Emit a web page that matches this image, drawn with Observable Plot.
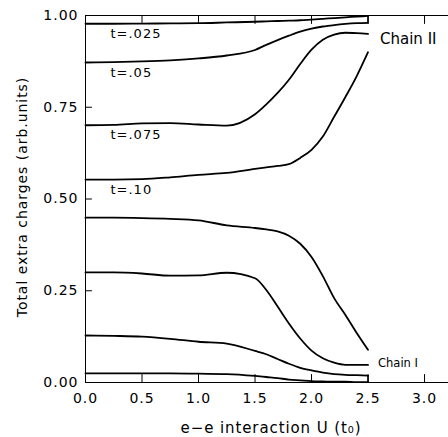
<!DOCTYPE html>
<html>
<head>
<meta charset="utf-8">
<script src="https://cdn.jsdelivr.net/npm/d3@7"></script>
<script src="https://cdn.jsdelivr.net/npm/@observablehq/plot@0.6"></script>
<style>
  body { margin: 0; background: #fff; }
</style>
</head>
<body>
<div id="chart"></div>
<script>
// ---- data ----
const U = [0, 0.25, 0.5, 0.75, 1.0, 1.25, 1.5, 1.6, 1.7, 1.8, 1.9, 2.0, 2.1, 2.2, 2.3, 2.4, 2.5];

const seriesLabels = ["t=.025", "t=.05", "t=.075", "t=.10"];

// Chain II (upper group)
const chainII_t025 = [0.9775, 0.9775, 0.978, 0.9785, 0.979, 0.981, 0.983, 0.984, 0.985, 0.986, 0.987, 0.989, 0.991, 0.993, 0.995, 0.997, 0.999];
const chainII_t05  = [0.872, 0.873, 0.875, 0.878, 0.883, 0.891, 0.906, 0.920, 0.933, 0.945, 0.956, 0.964, 0.970, 0.974, 0.977, 0.979, 0.980];
const chainII_t075 = [0.701, 0.702, 0.706, 0.707, 0.703, 0.700, 0.731, 0.758, 0.789, 0.825, 0.868, 0.907, 0.934, 0.948, 0.953, 0.952, 0.950];
const chainII_t10  = [0.553, 0.553, 0.554, 0.559, 0.566, 0.571, 0.582, 0.586, 0.590, 0.595, 0.612, 0.634, 0.670, 0.724, 0.778, 0.835, 0.900];

// Chain I (lower group)
const chainI_t025 = [0.025, 0.025, 0.025, 0.025, 0.024, 0.023, 0.018, 0.015, 0.012, 0.008, 0.006, 0.004, 0.003, 0.002, 0.002, 0.001, 0.001];
const chainI_t05  = [0.128, 0.127, 0.125, 0.119, 0.111, 0.106, 0.086, 0.077, 0.064, 0.051, 0.040, 0.033, 0.027, 0.023, 0.021, 0.020, 0.019];
const chainI_t075 = [0.300, 0.300, 0.297, 0.291, 0.292, 0.299, 0.284, 0.252, 0.207, 0.161, 0.120, 0.087, 0.066, 0.054, 0.048, 0.048, 0.048];
const chainI_t10  = [0.449, 0.449, 0.448, 0.446, 0.442, 0.428, 0.421, 0.417, 0.412, 0.400, 0.378, 0.342, 0.290, 0.230, 0.184, 0.135, 0.089];

const xTicks = [0, 0.5, 1.0, 1.5, 2.0, 2.5, 3.0];
const yTicks = [0, 0.25, 0.5, 0.75, 1.0];
const chainLabels = ["Chain II", "Chain I"];
const xLabel = "e\u2212e interaction U (t\u2080)";
const yLabel = "Total extra charges (arb.units)";

// ---- build table ----
const chainII = [chainII_t025, chainII_t05, chainII_t075, chainII_t10];
const chainI = [chainI_t025, chainI_t05, chainI_t075, chainI_t10];
const rows = [];
chainII.forEach((vals, s) => vals.forEach((v, i) => rows.push({chain: "II", series: seriesLabels[s], U: U[i], v})));
chainI.forEach((vals, s) => vals.forEach((v, i) => rows.push({chain: "I", series: seriesLabels[s], U: U[i], v})));
const last = (a) => a[a.length - 1];

// straight tick shape for vector marks
const tickShape = {draw(context, l) { context.moveTo(0, 0); context.lineTo(0, -l); }};
const yMin = yTicks[0], yMax = last(yTicks);

const font = "DejaVu Sans";
const svg = Plot.plot({
  width: 448,
  height: 437,
  marginLeft: 85,
  marginRight: 0,
  marginTop: 15,
  marginBottom: 55,
  x: {domain: [0, 3.212]},
  y: {domain: [yMin, yMax]},
  style: {fontFamily: font, background: "white", color: "black"},
  marks: [
    // frame
    Plot.ruleY([yMin, yMax], {stroke: "black", strokeWidth: 1}),
    Plot.ruleX([xTicks[0]], {y1: yMin, y2: yMax, stroke: "black", strokeWidth: 1}),
    // inward ticks
    Plot.vector(xTicks.slice(1), {x: (d) => d, y: yMin, length: 8, rotate: 0, anchor: "start", shape: tickShape, stroke: "black", strokeWidth: 1}),
    Plot.vector(xTicks.slice(1), {x: (d) => d, y: yMax, length: 8, rotate: 180, anchor: "start", shape: tickShape, stroke: "black", strokeWidth: 1}),
    Plot.vector(yTicks.slice(1, -1), {x: xTicks[0], y: (d) => d, length: 6, rotate: 90, anchor: "start", shape: tickShape, stroke: "black", strokeWidth: 1}),
    // tick labels
    Plot.axisX({anchor: "bottom", ticks: xTicks, tickSize: 0, tickPadding: 11, tickFormat: d3.format(".1f"), fontSize: 14, label: null, fill: "black"}),
    Plot.axisY({anchor: "left", ticks: yTicks, tickSize: 0, tickPadding: 7, tickFormat: d3.format(".2f"), fontSize: 14, label: null, fill: "black"}),
    // curves
    Plot.line(rows, {x: "U", y: "v", z: (d) => d.chain + d.series, curve: "monotone-x", stroke: "black", strokeWidth: 1.8}),
    // closing segments at the end of the curves
    Plot.ruleX([last(U)], {y1: last(chainII_t05), y2: yMax, stroke: "black", strokeWidth: 1.5}),
    Plot.ruleX([last(U)], {y1: yMin, y2: last(chainI_t05), stroke: "black", strokeWidth: 1.5}),
    // series labels
    Plot.text(seriesLabels, {x: 0, y: (d, i) => chainII[i][0], text: (d) => d, dx: 25, dy: 10, textAnchor: "start", fontSize: 13, fill: "black"}),
    Plot.text([chainLabels[0]], {x: last(U), y: last(chainII_t075), text: (d) => d, dx: 12, dy: 5, textAnchor: "start", fontSize: 15, fill: "black"}),
    Plot.text([chainLabels[1]], {x: last(U), y: last(chainI_t075), text: (d) => d, dx: 10, dy: -2, textAnchor: "start", fontSize: 11.5, fill: "black"}),
    // axis titles
    Plot.text([xLabel], {frameAnchor: "bottom", text: (d) => d, textAnchor: "middle", lineAnchor: "middle", dx: 4, dy: 46, fontSize: 15, fill: "black"}),
    Plot.text([yLabel], {frameAnchor: "left", text: (d) => d, textAnchor: "middle", lineAnchor: "middle", rotate: -90, dx: -63, dy: -2, fontSize: 14, fill: "black"})
  ]
});

// letter spacing, picked by text content
const spacing = new Map([[xLabel, "0.9"], [yLabel, "0.95"], ...seriesLabels.map((s) => [s, "1"])]);
svg.querySelectorAll("text").forEach((t) => {
  const s = t.textContent.trim();
  if (spacing.has(s)) t.setAttribute("letter-spacing", spacing.get(s));
  else if (/^\d\.\d+$/.test(s)) t.setAttribute("letter-spacing", "1");
});

document.getElementById("chart").appendChild(svg);
</script>
</body>
</html>
